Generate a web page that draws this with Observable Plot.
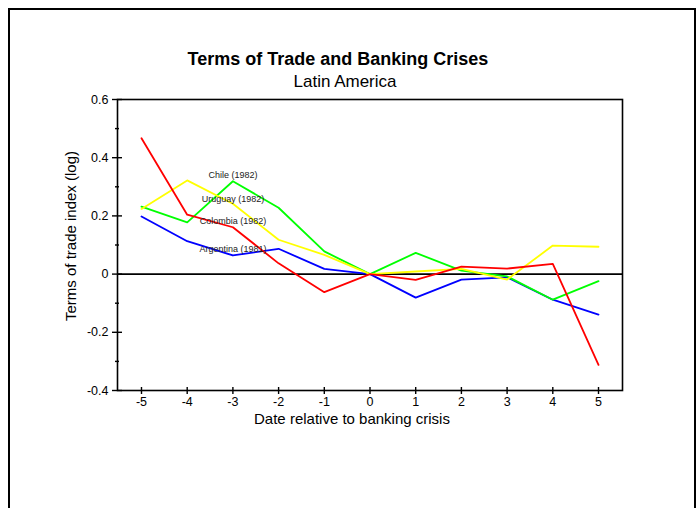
<!DOCTYPE html>
<html><head><meta charset="utf-8">
<script src="https://cdn.jsdelivr.net/npm/d3@7"></script>
<script src="https://cdn.jsdelivr.net/npm/@observablehq/plot@0.6"></script>
<style>body{margin:0;background:#fff;} svg{display:block}</style>
</head><body><div id="chart"></div>
<script>
const years = [-5,-4,-3,-2,-1,0,1,2,3,4,5];
const argentina = [0.198,0.113,0.064,0.087,0.018,0,-0.081,-0.019,-0.011,-0.088,-0.139];
const chile = [0.232,0.178,0.319,0.228,0.078,0,0.073,0.012,-0.008,-0.088,-0.024];
const uruguay = [0.224,0.322,0.242,0.118,0.066,0,0.009,0.018,-0.019,0.098,0.094];
const colombia = [0.467,0.204,0.161,0.037,-0.062,0,-0.020,0.026,0.019,0.035,-0.312];
const countries = ["Argentina","Chile","Uruguay","Colombia"];
const colors = ["#0000ff","#00ff00","#ffff00","#ff0000"];
const labelTexts = ["Chile (1982)","Uruguay (1982)","Colombia (1982)","Argentina (1981)"];
const labelX = [-3,-3,-3,-3];
const labelY = [0.339,0.256,0.181,0.085];
const yMajor = [-0.4,-0.2,0,0.2,0.4,0.6];
const yMinor = [-0.3,-0.1,0.1,0.3,0.5];
const xTicks = years;

const series = [argentina, chile, uruguay, colombia];
const data = [];
countries.forEach((c, i) => years.forEach((yr, j) => data.push({country: c, year: yr, value: series[i][j]})));
const labels = labelTexts.map((t, i) => ({text: t, x: labelX[i], y: labelY[i]}));

const fmtY = d => d === 0 ? "0" : d3.format(".1f")(d).replace("−", "-");
const fmtX = d => String(d);

const svg = Plot.plot({
  width: 700, height: 508,
  marginLeft: 117, marginRight: 78, marginTop: 99, marginBottom: 118,
  style: {fontFamily: "'Liberation Sans', Arial, sans-serif", background: "#fff", color: "#000"},
  x: {domain: [-5.525, 5.525]},
  y: {domain: [-0.4, 0.6]},
  color: {domain: countries, range: colors},
  marks: [
    Plot.ruleY([0], {stroke: "#000", strokeWidth: 1.6}),
    Plot.line(data, {x: "year", y: "value", z: "country", stroke: "country", strokeWidth: 1.8}),
    Plot.text(labels, {x: "x", y: "y", text: "text", fontSize: 9, fill: "#222"}),
    Plot.frame({stroke: "#000", strokeWidth: 1.6}),
    Plot.axisY(yMajor, {tickSize: 10, dx: 5, tickPadding: 4, tickFormat: fmtY, label: null, strokeWidth: 1.4}),
    Plot.axisY(yMinor, {tickSize: 4, dx: 2, text: null, label: null, strokeWidth: 1.4}),
    Plot.axisX(xTicks, {tickSize: 7, dy: -3, tickPadding: 3, tickFormat: fmtX, label: null, strokeWidth: 1.4})
  ]
});

const s = d3.select(svg);
s.selectAll("g").filter(function() {
  const a = this.getAttribute("aria-label") || "";
  return a.includes("axis") && a.includes("label");
}).attr("font-size", 12.5).selectAll("text").attr("font-size", 12.5);
s.append("rect").attr("x", 9).attr("y", 9).attr("width", 686).attr("height", 520)
  .attr("fill", "none").attr("stroke", "#000").attr("stroke-width", 2);
s.append("text").attr("x", 338).attr("y", 65).attr("text-anchor", "middle")
  .attr("font-size", 18).attr("font-weight", "bold").text("Terms of Trade and Banking Crises");
s.append("text").attr("x", 345).attr("y", 87).attr("text-anchor", "middle")
  .attr("font-size", 17).text("Latin America");
s.append("text").attr("x", 352).attr("y", 424).attr("text-anchor", "middle")
  .attr("font-size", 15).text("Date relative to banking crisis");
s.append("text").attr("transform", "translate(76,236) rotate(-90)").attr("text-anchor", "middle")
  .attr("font-size", 15).text("Terms of trade index (log)");
document.getElementById("chart").appendChild(svg);
</script>
</body></html>
